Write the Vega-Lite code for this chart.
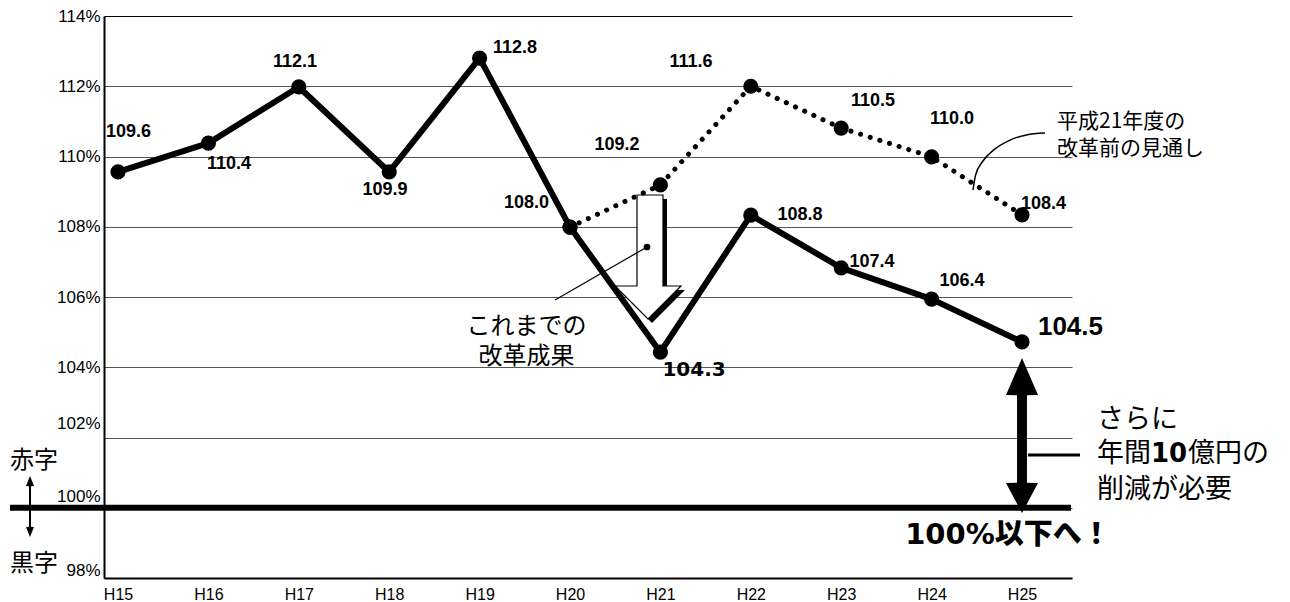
{
  "$schema": "https://vega.github.io/schema/vega-lite/v6.json",
  "width": 968,
  "height": 562,
  "autosize": {"type": "none"},
  "padding": {"left": 104, "top": 16, "right": 218, "bottom": 24},
  "background": "white",
  "config": {"view": {"stroke": null}, "font": "Liberation Sans"},
  "datasets": {
    "series": [
      {"x": 0, "year": "H15", "series": "solid", "y": 109.56},
      {"x": 1, "year": "H16", "series": "solid", "y": 110.38},
      {"x": 2, "year": "H17", "series": "solid", "y": 111.98},
      {"x": 3, "year": "H18", "series": "solid", "y": 109.56},
      {"x": 4, "year": "H19", "series": "solid", "y": 112.80},
      {"x": 5, "year": "H20", "series": "solid", "y": 107.99},
      {"x": 6, "year": "H21", "series": "solid", "y": 104.43},
      {"x": 7, "year": "H22", "series": "solid", "y": 108.33},
      {"x": 8, "year": "H23", "series": "solid", "y": 106.83},
      {"x": 9, "year": "H24", "series": "solid", "y": 105.94},
      {"x": 10, "year": "H25", "series": "solid", "y": 104.72},
      {"x": 5, "year": "H20", "series": "dotted", "y": 107.99},
      {"x": 6, "year": "H21", "series": "dotted", "y": 109.19},
      {"x": 7, "year": "H22", "series": "dotted", "y": 112.00},
      {"x": 8, "year": "H23", "series": "dotted", "y": 110.81},
      {"x": 9, "year": "H24", "series": "dotted", "y": 109.99},
      {"x": 10, "year": "H25", "series": "dotted", "y": 108.34}
    ],
    "numLabels": [
      {"x": 0.116, "y": 110.71, "text": "109.6"},
      {"x": 1.228, "y": 109.80, "text": "110.4"},
      {"x": 1.958, "y": 112.68, "text": "112.1"},
      {"x": 2.954, "y": 109.06, "text": "109.9"},
      {"x": 4.392, "y": 113.10, "text": "112.8"},
      {"x": 4.519, "y": 108.69, "text": "108.0"},
      {"x": 5.520, "y": 110.33, "text": "109.2"},
      {"x": 6.338, "y": 112.69, "text": "111.6"},
      {"x": 7.544, "y": 108.33, "text": "108.8"},
      {"x": 8.352, "y": 111.58, "text": "110.5"},
      {"x": 8.341, "y": 107.00, "text": "107.4"},
      {"x": 9.226, "y": 111.08, "text": "110.0"},
      {"x": 9.336, "y": 106.46, "text": "106.4"},
      {"x": 10.238, "y": 108.66, "text": "108.4"}
    ],
    "bigLabel": [{"x": 10.536, "y": 105.16, "text": "104.5"}],
    "heavyLabel": [{"x": 6.372, "y": 103.91, "text": "104.3"}],
    "baseline100": [{"x": -1.195, "x2": 10.542, "y": 100}],
    "hollowArrowShadow": [
      {"y": 105.260, "x": 5.9071, "x2": 5.9071},
      {"y": 106.199, "x": 5.5420, "x2": 6.2721},
      {"y": 106.204, "x": 5.7854, "x2": 6.0730},
      {"y": 108.790, "x": 5.7854, "x2": 6.0730}
    ],
    "hollowArrow": [
      {"y": 105.374, "x": 5.8628, "x2": 5.8628},
      {"y": 106.313, "x": 5.4978, "x2": 6.2279},
      {"y": 106.318, "x": 5.7412, "x2": 6.0288},
      {"y": 108.904, "x": 5.7412, "x2": 6.0288}
    ],
    "doubleArrow": [
      {"y": 99.851, "x": 10.0, "x2": 10.0},
      {"y": 100.705, "x": 9.823, "x2": 10.177},
      {"y": 100.710, "x": 9.945, "x2": 10.055},
      {"y": 103.205, "x": 9.945, "x2": 10.055},
      {"y": 103.210, "x": 9.823, "x2": 10.177},
      {"y": 104.263, "x": 10.0, "x2": 10.0}
    ],
    "smallArrow": [
      {"y": 99.167, "x": -0.9735, "x2": -0.9735},
      {"y": 99.452, "x": -1.0177, "x2": -0.9293},
      {"y": 99.457, "x": -0.9845, "x2": -0.9625},
      {"y": 100.614, "x": -0.9845, "x2": -0.9625},
      {"y": 100.619, "x": -1.0177, "x2": -0.9293},
      {"y": 100.904, "x": -0.9735, "x2": -0.9735}
    ],
    "pointerThin": [{"x": 4.834, "y": 105.915, "x2": 5.852, "y2": 107.424}],
    "pointerThick": [{"x": 10.066, "y": 101.502, "x2": 10.642, "y2": 101.502}],
    "dot": [{"x": 5.852, "y": 107.424}],
    "curve": [
      {"x": 10.254, "y": 110.670},
      {"x": 10.049, "y": 110.615},
      {"x": 9.856, "y": 110.453},
      {"x": 9.691, "y": 110.194},
      {"x": 9.564, "y": 109.858},
      {"x": 9.486, "y": 109.466},
      {"x": 9.458, "y": 109.046}
    ],
    "noteForecast": [
      {"x": 10.387, "y": 110.968, "text": ["平成21年度の", "改革前の見通し"]}
    ],
    "noteResult": [
      {"x": 4.519, "y": 105.150, "text": ["これまでの", "改革成果"]}
    ],
    "noteNeed": [
      {"x": 10.830, "y": 102.498, "text": "さらに"},
      {"x": 10.830, "y": 101.530, "text": "年間"},
      {"x": 11.836, "y": 101.530, "text": "億円の"},
      {"x": 10.830, "y": 100.505, "text": "削減が必要"}
    ],
    "noteTen": [{"x": 11.427, "y": 101.530, "text": "10"}],
    "goal": [{"x": 9.845, "y": 99.224, "text": "100%以下へ！"}],
    "sideLabels": [
      {"x": -0.929, "y": 101.331, "text": "赤字"},
      {"x": -0.929, "y": 98.399, "text": "黒字"}
    ]
  },
  "encoding": {
    "x": {
      "field": "x",
      "type": "quantitative",
      "scale": {"domain": [-0.1549, 10.5531], "nice": false, "zero": false},
      "axis": {
        "values": [0, 1, 2, 3, 4, 5, 6, 7, 8, 9, 10],
        "labelExpr": "'H' + (datum.value + 15)",
        "title": null,
        "grid": false,
        "ticks": false,
        "domainColor": "black",
        "domainWidth": 2,
        "labelFont": "Liberation Sans",
        "labelFontSize": 16,
        "labelColor": "black",
        "labelPadding": 8,
        "labelFlush": false,
        "labelOverlap": false
      }
    },
    "y": {
      "field": "y",
      "type": "quantitative",
      "scale": {"domain": [98, 114], "nice": false, "zero": false},
      "axis": {
        "values": [98, 100, 102, 104, 106, 108, 110, 112, 114],
        "labelExpr": "datum.value + '%'",
        "title": null,
        "grid": true,
        "gridColor": {"condition": {"test": "datum.value == 114", "value": "black"}, "value": "#555555"},
        "gridWidth": 1,
        "ticks": false,
        "domainColor": "black",
        "domainWidth": 2,
        "labelFont": "Liberation Sans",
        "labelFontSize": 17,
        "labelColor": "black",
        "labelPadding": 4,
        "labelFlush": false,
        "labelOverlap": false,
        "labelOffset": {"expr": "datum.value == 102 ? -14 : datum.value == 100 ? -11 : datum.value == 98 ? -8 : 0"}
      }
    }
  },
  "layer": [
    {
      "data": {"name": "baseline100"},
      "mark": {"type": "rule", "color": "black", "strokeWidth": 6},
      "encoding": {"x2": {"field": "x2"}}
    },
    {
      "data": {"name": "hollowArrowShadow"},
      "mark": {"type": "area", "orient": "horizontal", "color": "black", "opacity": 1},
      "encoding": {"x2": {"field": "x2"}}
    },
    {
      "data": {"name": "hollowArrow"},
      "mark": {"type": "area", "orient": "horizontal", "fill": "white", "stroke": "black", "strokeWidth": 1.2, "opacity": 1, "fillOpacity": 1},
      "encoding": {"x2": {"field": "x2"}}
    },
    {
      "data": {"name": "series"},
      "transform": [{"filter": "datum.series == 'dotted'"}],
      "mark": {"type": "line", "color": "black", "strokeWidth": 5, "strokeDash": [0.1, 10], "strokeCap": "round"},
      "encoding": {}
    },
    {
      "data": {"name": "series"},
      "transform": [{"filter": "datum.series == 'solid'"}],
      "mark": {"type": "line", "color": "black", "strokeWidth": 6, "strokeJoin": "round"},
      "encoding": {}
    },
    {
      "data": {"name": "series"},
      "mark": {"type": "circle", "color": "black", "size": 230, "opacity": 1},
      "encoding": {}
    },
    {
      "data": {"name": "pointerThin"},
      "mark": {"type": "rule", "color": "black", "strokeWidth": 1.2},
      "encoding": {"x2": {"field": "x2"}, "y2": {"field": "y2"}}
    },
    {
      "data": {"name": "dot"},
      "mark": {"type": "circle", "color": "black", "size": 45, "opacity": 1},
      "encoding": {}
    },
    {
      "data": {"name": "curve"},
      "mark": {"type": "line", "color": "black", "strokeWidth": 1.5, "interpolate": "monotone"},
      "encoding": {}
    },
    {
      "data": {"name": "doubleArrow"},
      "mark": {"type": "area", "orient": "horizontal", "color": "black", "opacity": 1},
      "encoding": {"x2": {"field": "x2"}}
    },
    {
      "data": {"name": "smallArrow"},
      "mark": {"type": "area", "orient": "horizontal", "color": "black", "opacity": 1},
      "encoding": {"x2": {"field": "x2"}}
    },
    {
      "data": {"name": "pointerThick"},
      "mark": {"type": "rule", "color": "black", "strokeWidth": 3},
      "encoding": {"x2": {"field": "x2"}, "y2": {"field": "y2"}}
    },
    {
      "data": {"name": "numLabels"},
      "mark": {"type": "text", "font": "Liberation Sans", "fontWeight": "bold", "fontSize": 18, "align": "center", "baseline": "middle", "color": "black"},
      "encoding": {"text": {"field": "text"}}
    },
    {
      "data": {"name": "bigLabel"},
      "mark": {"type": "text", "font": "Liberation Sans", "fontWeight": "bold", "fontSize": 26, "align": "center", "baseline": "middle", "color": "black"},
      "encoding": {"text": {"field": "text"}}
    },
    {
      "data": {"name": "heavyLabel"},
      "mark": {"type": "text", "font": "DejaVu Sans", "fontWeight": "bold", "fontSize": 20, "align": "center", "baseline": "middle", "color": "black"},
      "encoding": {"text": {"field": "text"}}
    },
    {
      "data": {"name": "noteForecast"},
      "mark": {"type": "text", "font": "Noto Sans CJK JP", "fontSize": 21, "lineHeight": 27, "align": "left", "baseline": "middle", "color": "black"},
      "encoding": {"text": {"field": "text"}}
    },
    {
      "data": {"name": "noteResult"},
      "mark": {"type": "text", "font": "Noto Sans CJK JP", "fontSize": 24, "lineHeight": 30, "align": "center", "baseline": "middle", "color": "black"},
      "encoding": {"text": {"field": "text"}}
    },
    {
      "data": {"name": "noteNeed"},
      "mark": {"type": "text", "font": "Noto Sans CJK JP", "fontSize": 27, "align": "left", "baseline": "middle", "color": "black"},
      "encoding": {"text": {"field": "text"}}
    },
    {
      "data": {"name": "noteTen"},
      "mark": {"type": "text", "font": "DejaVu Sans", "fontWeight": "bold", "fontSize": 26, "align": "left", "baseline": "middle", "color": "black"},
      "encoding": {"text": {"field": "text"}}
    },
    {
      "data": {"name": "goal"},
      "mark": {"type": "text", "font": "DejaVu Sans, Noto Sans CJK JP", "fontWeight": 900, "fontSize": 29, "align": "center", "baseline": "middle", "color": "black"},
      "encoding": {"text": {"field": "text"}}
    },
    {
      "data": {"name": "sideLabels"},
      "mark": {"type": "text", "font": "Noto Sans CJK JP", "fontSize": 24, "align": "center", "baseline": "middle", "color": "black"},
      "encoding": {"text": {"field": "text"}}
    }
  ]
}
